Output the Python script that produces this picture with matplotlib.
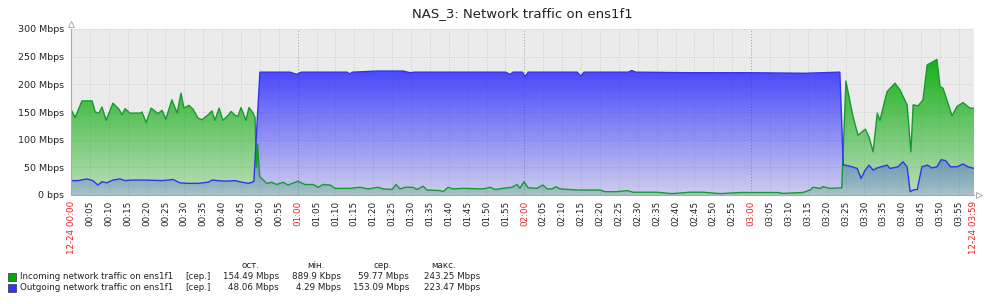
import numpy as np
import matplotlib
matplotlib.use('Agg')
import matplotlib.pyplot as plt

# minutes since 12-24 00:00, Mbps
in_t = [0.0, 1.1, 2.9, 5.6, 6.4, 7.4, 8.2, 9.3, 11.1, 12.7, 13.5, 14.3, 15.6, 18.3, 18.8, 19.9,
        21.2, 22.5, 23.0, 24.1, 25.1, 26.7, 28.1, 29.1, 29.9, 31.2, 32.3, 33.6, 34.7, 36.3, 37.3,
        38.1, 39.2, 40.2, 41.6, 42.4, 43.4, 44.2, 45.0, 46.3, 47.1, 48.2, 48.7, 49.1, 49.4, 49.9,
        50.0, 51.8, 53.1, 54.4, 56.2, 57.4, 60.1, 61.9, 64.1, 65.4, 66.7, 68.6, 69.9, 73.8, 76.5,
        78.6, 81.3, 82.6, 85.0, 86.0, 87.1, 88.4, 90.5, 91.6, 93.2, 94.2, 97.7, 98.5, 99.8, 101.1,
        103.8, 109.1, 110.9, 112.2, 115.4, 116.7, 118.1, 118.8, 119.9, 121.0, 123.3, 124.9, 126.0,
        127.3, 128.4, 129.4, 133.9, 140.0, 141.3, 144.5, 147.2, 148.8, 155.1, 159.1, 163.8, 167.3,
        171.8, 177.1, 186.9, 188.5, 193.7, 195.6, 196.4, 198.3, 199.0, 200.9, 204.0, 205.1, 207.0,
        208.3, 210.2, 211.2, 212.3, 213.4, 214.1, 216.0, 218.1, 219.4, 221.3, 222.3, 222.9, 224.2,
        225.5, 226.6, 229.2, 230.0, 230.8, 233.2, 234.5, 236.1, 237.9, 239.0]
in_v = [155, 140, 170, 170, 150, 148, 159, 135, 166, 155, 145, 156, 148, 148, 150, 131,
        157, 150, 147, 153, 137, 172, 148, 184, 157, 162, 155, 139, 136, 145, 152,
        135, 157, 135, 144, 151, 144, 142, 158, 135, 158, 148, 140, 50, 92, 35,
        33, 21, 23, 19, 23, 18, 25, 19, 19, 14, 19, 18, 12, 12, 14,
        11, 14, 11, 10, 19, 11, 14, 14, 10, 16, 9, 8, 6, 14, 11,
        12, 11, 14, 10, 13, 14, 19, 12, 24, 13, 12, 18, 11,
        11, 15, 11, 9, 9, 6, 6, 8, 5, 5, 2.5, 5, 5,
        2.5, 4.5, 4.5, 3, 4.5, 9, 14, 12, 15, 12, 13, 206, 141,
        108, 119, 105, 78, 148, 135, 187, 202, 190, 163, 78, 163, 161,
        172, 235, 245, 196, 193, 143, 160, 167, 157, 157]

out_t = [0.0, 1.9, 4.2, 5.8, 7.1, 8.2, 9.5, 11.1, 13.0, 14.3, 16.1, 19.6, 24.1, 27.0, 28.8,
         31.0, 33.6, 36.3, 37.3, 38.9, 40.8, 43.4, 45.3, 46.9, 47.9, 48.4, 50.0, 58.0, 59.7,
         61.0, 73.0, 73.8, 74.5, 81.0, 88.0, 89.7, 91.0, 115.0, 116.2, 117.0, 119.5, 120.2,
         121.0, 134.0, 134.9, 135.8, 147.5, 148.4, 149.5, 164.3, 179.2, 194.3, 203.5, 204.4,
         204.9, 206.7, 208.1, 209.1, 210.2, 211.2, 212.3, 213.4, 216.0, 216.8, 218.9, 220.2,
         221.3, 222.1, 222.9, 224.0, 225.2, 226.6, 227.9, 229.2, 230.3, 231.5, 232.8, 234.5,
         236.1, 237.4, 239.0]
out_v = [26, 26, 29, 26, 18, 24, 22, 27, 29, 26, 27, 27, 26, 28, 22,
         21, 21, 23, 27, 26, 25, 26, 23, 21, 23, 25, 222, 222, 218,
         222, 222, 219, 222, 224, 224, 221, 222, 222, 218, 222, 222, 214,
         222, 222, 215, 222, 222, 225, 222, 221, 221, 220, 222, 54,
         54, 51, 48, 30, 45, 54, 45, 49, 54, 48, 51, 60,
         51, 6, 9, 10, 51, 54, 49, 51, 64, 62, 51, 51,
         56, 51, 48]

y_ticks = [0, 50, 100, 150, 200, 250, 300]
y_labels = ['0 bps', '50 Mbps', '100 Mbps', '150 Mbps', '200 Mbps', '250 Mbps', '300 Mbps']

legend_names = ['Incoming network traffic on ens1f1', 'Outgoing network traffic on ens1f1']
legend_cols = ['ост.', 'мін.', 'сер.', 'макс.']
legend_vals = [['154.49 Mbps', '889.9 Kbps', '59.77 Mbps', '243.25 Mbps'],
               ['48.06 Mbps', '4.29 Mbps', '153.09 Mbps', '223.47 Mbps']]

fig = plt.figure(figsize=(10, 3.04), dpi=100)
ax = fig.add_axes([0.071, 1 - 195 / 304, 0.903, 166 / 304])
ax.set_facecolor('#ebebeb')
T0, T1, VMAX = 0, 239, 300


def grad_fill(t, v, rgb, a0, a1, z):
    poly = ax.fill_between(t, 0, v, facecolor='none', edgecolor='none', zorder=z)
    n = 300
    img = np.zeros((n, 1, 4))
    img[:, 0, :3] = rgb
    img[:, 0, 3] = np.clip(np.linspace(a0, a1, n), 0, 1)
    im = ax.imshow(img, origin='lower', extent=[T0, T1, 0, VMAX], aspect='auto',
                   interpolation='bilinear', zorder=z)
    im.set_clip_path(poly.get_paths()[0], ax.transData)


grad_fill(in_t, in_v, (0.0, 0.66, 0.0), 0.2, 1.05, 2)
grad_fill(out_t, out_v, (0.15, 0.15, 1.0), 0.15, 1.05, 3)
ax.plot(in_t, in_v, color='#169a30', lw=1.0, zorder=4)
ax.plot(out_t, out_v, color='#3333ee', lw=1.0, zorder=5)

ax.set_xlim(T0, T1)
ax.set_ylim(0, VMAX)

# grid
for m in range(5, 240, 5):
    if m % 60 == 0:
        ax.axvline(m, color='#9a9aaa', lw=0.7, ls=(0, (1, 2)), zorder=1)
    else:
        ax.axvline(m, color='#c4c4c4', lw=0.6, ls=(0, (1, 2)), zorder=1)
ax.axvline(T1, color='#c4c4c4', lw=0.6, ls=(0, (1, 2)), zorder=1)
for y in y_ticks[1:]:
    ax.axhline(y, color='#c4c4c4', lw=0.6, ls=(0, (1, 2)), zorder=1)

for s in ['top', 'right']:
    ax.spines[s].set_visible(False)
for s in ['left', 'bottom']:
    ax.spines[s].set_color('#aaaaaa')
    ax.spines[s].set_linewidth(0.8)
    ax.spines[s].set_zorder(6)
ax.plot([0], [1.03], marker='^', ms=5, mfc='white', mec='#aaaaaa', mew=0.7,
        transform=ax.transAxes, clip_on=False)
ax.plot([1.006], [0], marker='>', ms=5, mfc='white', mec='#aaaaaa', mew=0.7,
        transform=ax.transAxes, clip_on=False)

ax.set_yticks(y_ticks)
ax.set_yticklabels(y_labels, fontsize=6.8, color='#222222')
ax.tick_params(axis='y', length=0, pad=5)

xt = list(range(0, 240, 5)) + [T1]
xl = []
for m in xt:
    if m == 0 or m == T1:
        xl.append('12-24 %02d:%02d' % (m // 60, m % 60))
    else:
        xl.append('%02d:%02d' % (m // 60, m % 60))
ax.set_xticks(xt)
ax.set_xticklabels(xl, rotation=90, fontsize=6.3, color='#222222')
ax.tick_params(axis='x', length=0, pad=4)
for m, lab in zip(xt, ax.get_xticklabels()):
    if m % 60 == 0 or m == T1:
        lab.set_color('#ee2222')

fig.text(0.522, 1 - 14 / 304, 'NAS_3: Network traffic on ens1f1', ha='center', va='center',
         fontsize=9.5, color='#222222')

# legend table
colors = ['#00aa00', '#3333ff']
rows_y = [276.7, 287.7]
col_right = [279, 341, 409, 480]
col_center = [251, 316, 383, 444]
for c, x in zip(legend_cols, col_center):
    fig.text(x / 1000, 1 - 265.7 / 304, c, ha='center', va='center', fontsize=6.3, color='#222222')
for i in range(2):
    yy = 1 - rows_y[i] / 304
    fig.patches.append(plt.Rectangle((7.5 / 1000, yy - 4 / 304), 8 / 1000, 8 / 304,
                                     transform=fig.transFigure, facecolor=colors[i],
                                     edgecolor='#333333', lw=0.5))
    fig.text(19.5 / 1000, yy, legend_names[i], ha='left', va='center', fontsize=6.3, color='#222222')
    fig.text(185 / 1000, yy, '[сер.]', ha='left', va='center', fontsize=6.3, color='#222222')
    for v, x in zip(legend_vals[i], col_right):
        fig.text(x / 1000, yy, v, ha='right', va='center', fontsize=6.3, color='#222222')

fig.savefig('out.png', dpi=100, facecolor='white')
